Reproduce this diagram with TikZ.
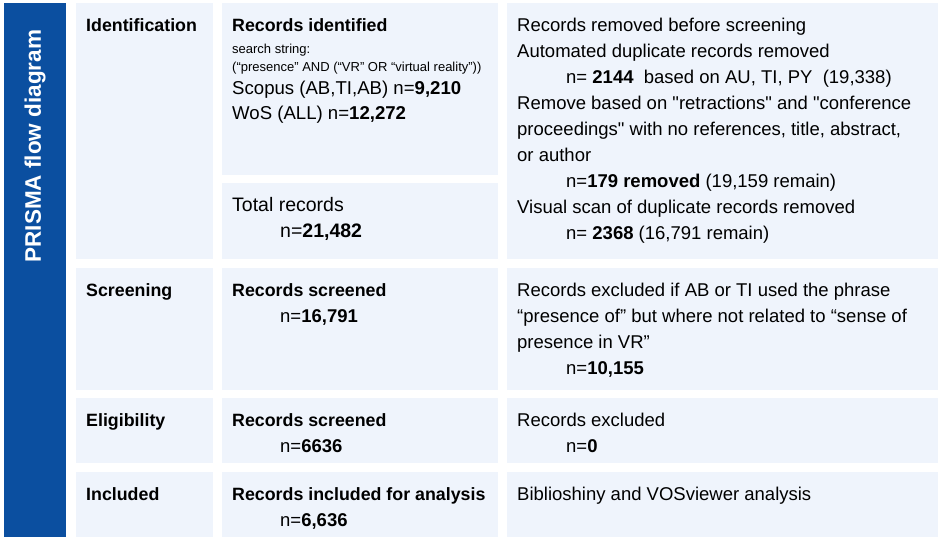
\documentclass[tikz,border=0pt]{standalone}
\usepackage{fontspec}
\setmainfont{Liberation Sans}
\usepackage{tikz}
\usetikzlibrary{positioning}
\definecolor{prismablue}{RGB}{11,79,160}
\definecolor{cellfill}{RGB}{239,244,252}

\begin{document}
\begin{tikzpicture}[x=1pt,y=-1pt]
        \tikzstyle{cell} = [fill=cellfill, rectangle, anchor=north west, inner sep=0pt]
        \tikzstyle{txt} = [anchor=north west, align=left, inner xsep=10pt, inner ysep=10.5pt,
                           font=\fontsize{18.5}{26}\selectfont]
        \tikzstyle{stage} = [txt, font=\fontsize{17.8}{26}\selectfont\bfseries]
        \newcommand{\hd}[1]{{\fontsize{17.8}{26}\selectfont\bfseries #1}}

        \useasboundingbox[fill=white] (0,0) rectangle (941,540);

        % side bar
        \node[cell, fill=prismablue, minimum width=62pt, minimum height=534pt] (bar) at (4,3) {};
        \node[rotate=90, text=white, font=\fontsize{22.5}{26}\selectfont\bfseries] (title) at (35,146) {PRISMA flow diagram};

        % cells
        \node[cell, minimum width=137pt, minimum height=256pt] (idstage) at (76,3) {};
        \node[cell, minimum width=276pt, minimum height=172pt] (idrec) at (222,3) {};
        \node[cell, minimum width=276pt, minimum height=76pt] (idtotal) at (222,183) {};
        \node[cell, minimum width=431pt, minimum height=256pt] (idremoved) at (507,3) {};

        \node[cell, minimum width=137pt, minimum height=122pt] (scrstage) at (76,268) {};
        \node[cell, minimum width=276pt, minimum height=122pt] (scrrec) at (222,268) {};
        \node[cell, minimum width=431pt, minimum height=122pt] (screxcl) at (507,268) {};

        \node[cell, minimum width=137pt, minimum height=65pt] (elstage) at (76,398) {};
        \node[cell, minimum width=276pt, minimum height=65pt] (elrec) at (222,398) {};
        \node[cell, minimum width=431pt, minimum height=65pt] (elexcl) at (507,398) {};

        \node[cell, minimum width=137pt, minimum height=65pt] (incstage) at (76,472) {};
        \node[cell, minimum width=276pt, minimum height=65pt] (increc) at (222,472) {};
        \node[cell, minimum width=431pt, minimum height=65pt] (incout) at (507,472) {};

        % texts
        \node[stage] (idstage-t) at (idstage.north west) {\strut Identification};
        \node[stage] (idrec-t) at (idrec.north west) {\strut Records identified};
        \node[anchor=north west, align=left, inner sep=0pt, font=\fontsize{13}{18.5}\selectfont]
              (idrec-s) at ([shift={(10,37)}]idrec.north west)
              {\strut search string:\\(“presence” AND (“VR” OR “virtual reality”))};
        \node[anchor=north west, align=left, inner sep=0pt, font=\fontsize{18.6}{25}\selectfont]
              (idrec-n) at ([shift={(10,74)}]idrec.north west)
              {\strut Scopus (AB,TI,AB) n=\textbf{9,210}\\WoS (ALL) n=\textbf{12,272}};
        \node[txt, font=\fontsize{19.5}{26}\selectfont] (idtotal-t) at (idtotal.north west)
              {\strut Total records\\\hspace*{48pt}n=\textbf{21,482}};
        \node[txt] (idremoved-t) at (idremoved.north west)
              {\strut Records removed before screening\\
               Automated duplicate records removed\\
               \hspace*{49pt}n= \textbf{2144}\ \ based on AU, TI, PY\ \ (19,338)\\
               Remove based on \textquotedbl retractions\textquotedbl{} and \textquotedbl conference\\
               proceedings\textquotedbl{} with no references, title, abstract,\\
               or author\\
               \hspace*{49pt}n=\textbf{179 removed} (19,159 remain)\\
               Visual scan of duplicate records removed\\
               \hspace*{49pt}n= \textbf{2368} (16,791 remain)};

        \node[stage] (scrstage-t) at (scrstage.north west) {\strut Screening};
        \node[txt] (scrrec-t) at (scrrec.north west)
              {\strut\hd{Records screened}\\\hspace*{48pt}n=\textbf{16,791}};
        \node[txt] (screxcl-t) at (screxcl.north west)
              {\strut Records excluded if AB or TI used the phrase\\
               “presence of” but where not related to “sense of\\
               presence in VR”\\
               \hspace*{49pt}n=\textbf{10,155}};

        \node[stage] (elstage-t) at (elstage.north west) {\strut Eligibility};
        \node[txt] (elrec-t) at (elrec.north west)
              {\strut\hd{Records screened}\\\hspace*{48pt}n=\textbf{6636}};
        \node[txt] (elexcl-t) at (elexcl.north west)
              {\strut Records excluded\\\hspace*{49pt}n=\textbf{0}};

        \node[stage] (incstage-t) at (incstage.north west) {\strut Included};
        \node[txt] (increc-t) at (increc.north west)
              {\strut\hd{Records included for analysis}\\\hspace*{48pt}n=\textbf{6,636}};
        \node[txt] (incout-t) at (incout.north west) {\strut Biblioshiny and VOSviewer analysis};
      \end{tikzpicture}
\end{document}
